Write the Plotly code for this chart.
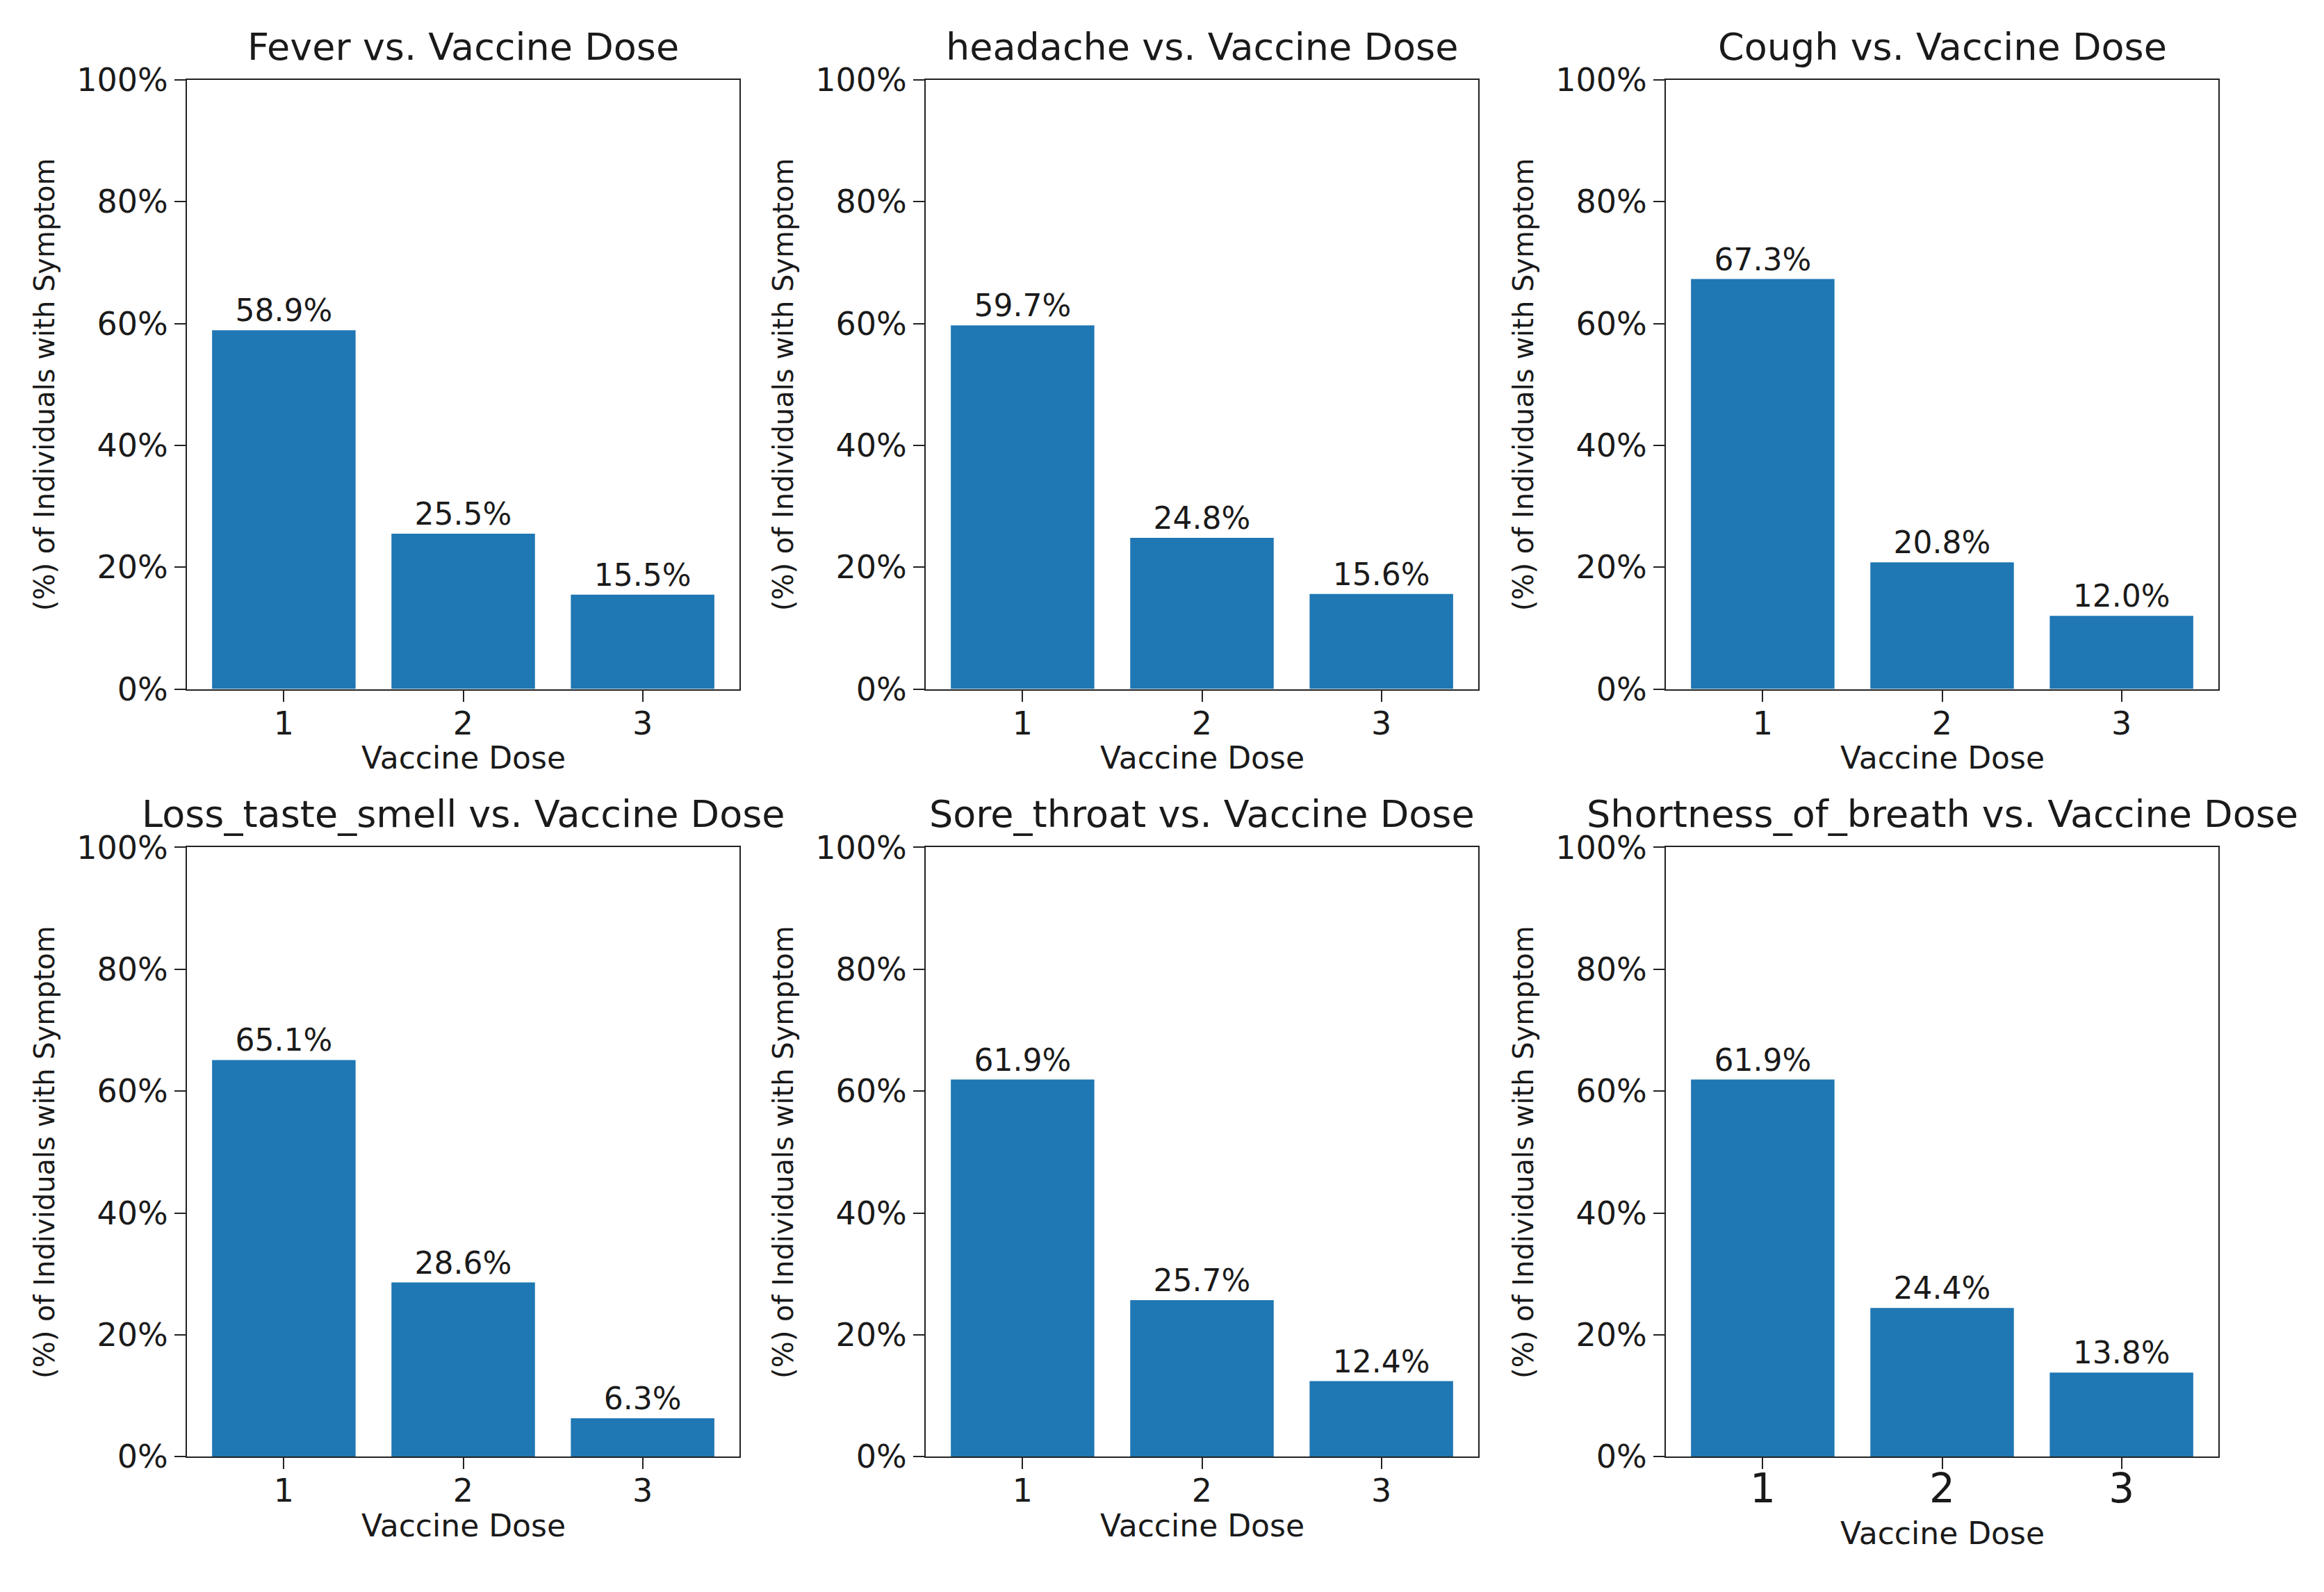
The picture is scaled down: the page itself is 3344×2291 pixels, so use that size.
import plotly.graph_objects as go

doses = [1, 2, 3]
symptoms = ["Fever", "headache", "Cough", "Loss_taste_smell", "Sore_throat", "Shortness_of_breath"]
fever = [58.9, 25.5, 15.5]
headache = [59.7, 24.8, 15.6]
cough = [67.3, 20.8, 12.0]
loss_taste_smell = [65.1, 28.6, 6.3]
sore_throat = [61.9, 25.7, 12.4]
shortness_of_breath = [61.9, 24.4, 13.8]
series = [fever, headache, cough, loss_taste_smell, sore_throat, shortness_of_breath]
y_ticks = [0, 20, 40, 60, 80, 100]
y_title = "(%) of Individuals with Symptom"
x_title = "Vaccine Dose"

W, H = 3328, 2226
FONT = "DejaVu Sans"
TXT = "#1a1a1a"
BAR = "#1f77b4"

xdoms = [(0.07843, 0.31731), (0.39784, 0.63672), (0.71785, 0.95673)]
ydoms = [(0.55961, 0.96325), (0.05097, 0.45467)]

fig = go.Figure()
annotations = []
for i, (name, vals) in enumerate(zip(symptoms, series)):
    r, c = divmod(i, 3)
    ax = "" if i == 0 else str(i + 1)
    xd, yd = xdoms[c], ydoms[r]
    last = (i == 5)
    fig.add_trace(go.Bar(
        x=doses, y=vals, width=0.8, marker=dict(color=BAR, line=dict(width=0)),
        text=[f"{v:.1f}%" for v in vals], textposition="outside",
        textfont=dict(family=FONT, size=44, color=TXT),
        cliponaxis=False, constraintext="none",
        xaxis="x" + ax, yaxis="y" + ax, showlegend=False, hoverinfo="skip",
    ))
    axis_common = dict(showline=True, mirror=True, linecolor="#222222", linewidth=2,
                       showgrid=False, zeroline=False, ticks="outside", ticklen=16,
                       tickwidth=2, tickcolor="#222222")
    fig.update_layout(**{
        "xaxis" + ax: dict(domain=list(xd), anchor="y" + ax, range=[0.46, 3.54],
                           tickvals=doses, ticktext=[str(d) for d in doses],
                           tickfont=dict(family=FONT, size=58 if last else 46, color=TXT),
                           ticklabelstandoff=-22 if last else -8,
                           **axis_common),
        "yaxis" + ax: dict(domain=list(yd), anchor="x" + ax, range=[0, 100],
                           tickvals=y_ticks, ticktext=[f"{t}%" for t in y_ticks],
                           tickfont=dict(family=FONT, size=46, color=TXT),
                           **axis_common),
    })
    xc = (xd[0] + xd[1]) / 2
    yc = (yd[0] + yd[1]) / 2
    annotations.append(dict(text=f"{name} vs. Vaccine Dose", x=xc, y=yd[1], xref="paper", yref="paper",
                            xanchor="center", yanchor="bottom", yshift=14, showarrow=False,
                            font=dict(family=FONT, size=54, color=TXT)))
    annotations.append(dict(text=x_title, x=xc, y=yd[0], xref="paper", yref="paper",
                            xanchor="center", yanchor="middle", yshift=-(110 if last else 99),
                            showarrow=False, font=dict(family=FONT, size=44, color=TXT)))
    annotations.append(dict(text=y_title, x=xd[0], y=yc, xref="paper", yref="paper",
                            xanchor="center", yanchor="middle", xshift=-205, textangle=-90,
                            showarrow=False, font=dict(family=FONT, size=40, color=TXT)))

fig.update_layout(width=W, height=H, margin=dict(l=0, r=0, t=0, b=0),
                  paper_bgcolor="white", plot_bgcolor="white",
                  annotations=annotations, bargap=0.2, font=dict(family=FONT, color=TXT))
fig.write_html("out.html")
